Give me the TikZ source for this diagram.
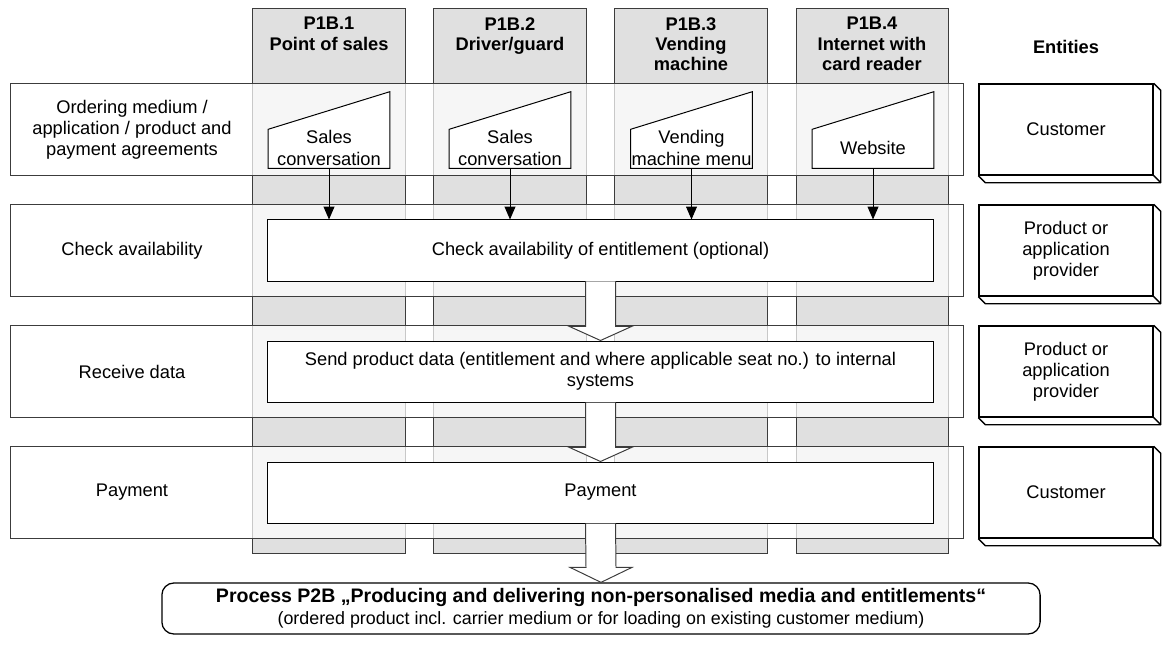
\documentclass[tikz,border=0pt]{standalone}
\usepackage{fontspec}
\setmainfont{Liberation Sans}
\usetikzlibrary{arrows.meta, positioning}

\definecolor{lanegray}{RGB}{224,224,224}
\definecolor{edgegray}{RGB}{60,60,60}

\begin{document}
\begin{tikzpicture}[x=0.025cm, y=-0.025cm,
        every node/.style={font=\fontsize{13}{15}\selectfont, align=center, inner sep=0pt},
        headtext/.style={font=\fontsize{13}{14.4}\selectfont\bfseries},
        channel/.style={draw=edgegray, fill=lanegray, line width=0.7pt, minimum width=3.8cm, minimum height=13.6cm},
        phase/.style={draw=edgegray, fill=white, fill opacity=0.72, text opacity=1, line width=0.7pt, minimum width=23.8cm, minimum height=2.275cm},
        task/.style={draw=black, fill=white, line width=0.7pt, minimum width=16.625cm, minimum height=1.525cm},
        inputspot/.style={minimum width=3.025cm, minimum height=1.9cm},
        inputbox/.style={draw=black, fill=white, line width=0.7pt},
        entity/.style={draw=black, fill=white, line width=1pt, minimum width=4.35cm, minimum height=2.275cm},
        result/.style={draw=black, fill=white, line width=0.9pt, rounded corners=0.3cm, minimum width=21.95cm, minimum height=1.275cm},
        flow/.style={draw=black, line width=0.7pt, -{Triangle[length=0.32cm, width=0.27cm]}},
        bigarrow/.style={draw=edgegray, fill=white, line width=0.7pt, line join=miter}
    ]
        \useasboundingbox (0,0) rectangle (1169,649);

        % channels
        \node[channel] (c1) at (329,281) {};
        \node[channel] (c2) at (510,281) {};
        \node[channel] (c3) at (691,281) {};
        \node[channel] (c4) at (872,281) {};
        \node[headtext, anchor=north] (h1) at (329,17) {P1B.1\\Point of sales};
        \node[headtext, anchor=north] (h2) at (510,17) {P1B.2\\Driver/guard};
        \node[headtext, anchor=north] (h3) at (691,17) {P1B.3\\Vending\\machine};
        \node[headtext, anchor=north] (h4) at (872,17) {P1B.4\\Internet with\\card reader};
        \node[headtext] (ent) at (1066,47) {Entities};

        % phases
        \node[phase] (r1) at (487,129.5) {};
        \node[phase] (r2) at (487,250.5) {};
        \node[phase] (r3) at (487,371.5) {};
        \node[phase] (r4) at (487,492.5) {};
        \node (l1) at (132,130) {Ordering medium /\\application / product and\\payment agreements};
        \node (l2) at (132,250.5) {Check availability};
        \node (l3) at (132,371.5) {Receive data};
        \node (l4) at (132,492.5) {Payment};

        % ordering media
        \node[inputspot] (m1) at (329,130) {};
        \node[inputspot] (m2) at (510,130) {};
        \node[inputspot] (m3) at (691.5,130) {};
        \node[inputspot] (m4) at (873,130) {};
        \draw[inputbox] (m1.south west) -- (m1.south east) -- (m1.north east) -- ([yshift=0.975cm]m1.south west) -- cycle;
        \draw[inputbox] (m2.south west) -- (m2.south east) -- (m2.north east) -- ([yshift=0.975cm]m2.south west) -- cycle;
        \draw[inputbox] (m3.south west) -- (m3.south east) -- (m3.north east) -- ([yshift=0.975cm]m3.south west) -- cycle;
        \draw[inputbox] (m4.south west) -- (m4.south east) -- (m4.north east) -- ([yshift=0.975cm]m4.south west) -- cycle;
        \node (m1t) at (329,148) {Sales\\conversation};
        \node (m2t) at (510,148) {Sales\\conversation};
        \node (m3t) at (691.5,148) {Vending\\machine menu};
        \node (m4t) at (873,148) {Website};

        % tasks
        \node[task] (t2) at (600.5,250.5) {Check availability of entitlement (optional)};
        \node[task] (t3) at (600.5,371.5) {Send product data (entitlement and where applicable seat no.) to internal\\systems};
        \node[task] (t4) at (600.5,492.5) {Payment};

        \draw[flow] (m1.south) -- (m1.south |- t2.north);
        \draw[flow] (m2.south) -- (m2.south |- t2.north);
        \draw[flow] (m3.south) -- (m3.south |- t2.north);
        \draw[flow] (m4.south) -- (m4.south |- t2.north);

        % entities
        \node[entity] (e1) at (1066,129.5) {Customer};
        \node[entity] (e2) at (1066,250.5) {Product or\\application\\provider};
        \node[entity] (e3) at (1066,371.5) {Product or\\application\\provider};
        \node[entity] (e4) at (1066,492.5) {Customer};
        \foreach \e in {e1,e2,e3,e4} {
            \draw[line width=1pt, line join=round] (\e.north east) -- ++(7,7) -- ([shift={(7,7)}]\e.south east) -- ([shift={(7,7)}]\e.south west) -- (\e.south west);
            \draw[line width=1pt] (\e.south east) -- ++(7,7);
        }

        % result
        \node[result] (res) at (601,608.5) {{\fontsize{13.9}{15}\selectfont\bfseries Process P2B „Producing and delivering non-personalised media and entitlements“}\\[1pt]
            {\fontsize{12.7}{14}\selectfont (ordered product incl. carrier medium or for loading on existing customer medium)}};

        % block arrows
        \draw[bigarrow] ([shift={(-15,0)}]t2.south) -- ([shift={(-15,-14)}]t3.north) -- ([shift={(-31,-14)}]t3.north) -- (t3.north) -- ([shift={(31,-14)}]t3.north) -- ([shift={(15,-14)}]t3.north) -- ([shift={(15,0)}]t2.south);
        \draw[bigarrow] ([shift={(-15,0)}]t3.south) -- ([shift={(-15,-14)}]t4.north) -- ([shift={(-31,-14)}]t4.north) -- (t4.north) -- ([shift={(31,-14)}]t4.north) -- ([shift={(15,-14)}]t4.north) -- ([shift={(15,0)}]t3.south);
        \draw[bigarrow] ([shift={(-15,0)}]t4.south) -- ([shift={(-15,-15)}]res.north) -- ([shift={(-31,-15)}]res.north) -- (res.north) -- ([shift={(31,-15)}]res.north) -- ([shift={(15,-15)}]res.north) -- ([shift={(15,0)}]t4.south);
    \end{tikzpicture}
\end{document}
